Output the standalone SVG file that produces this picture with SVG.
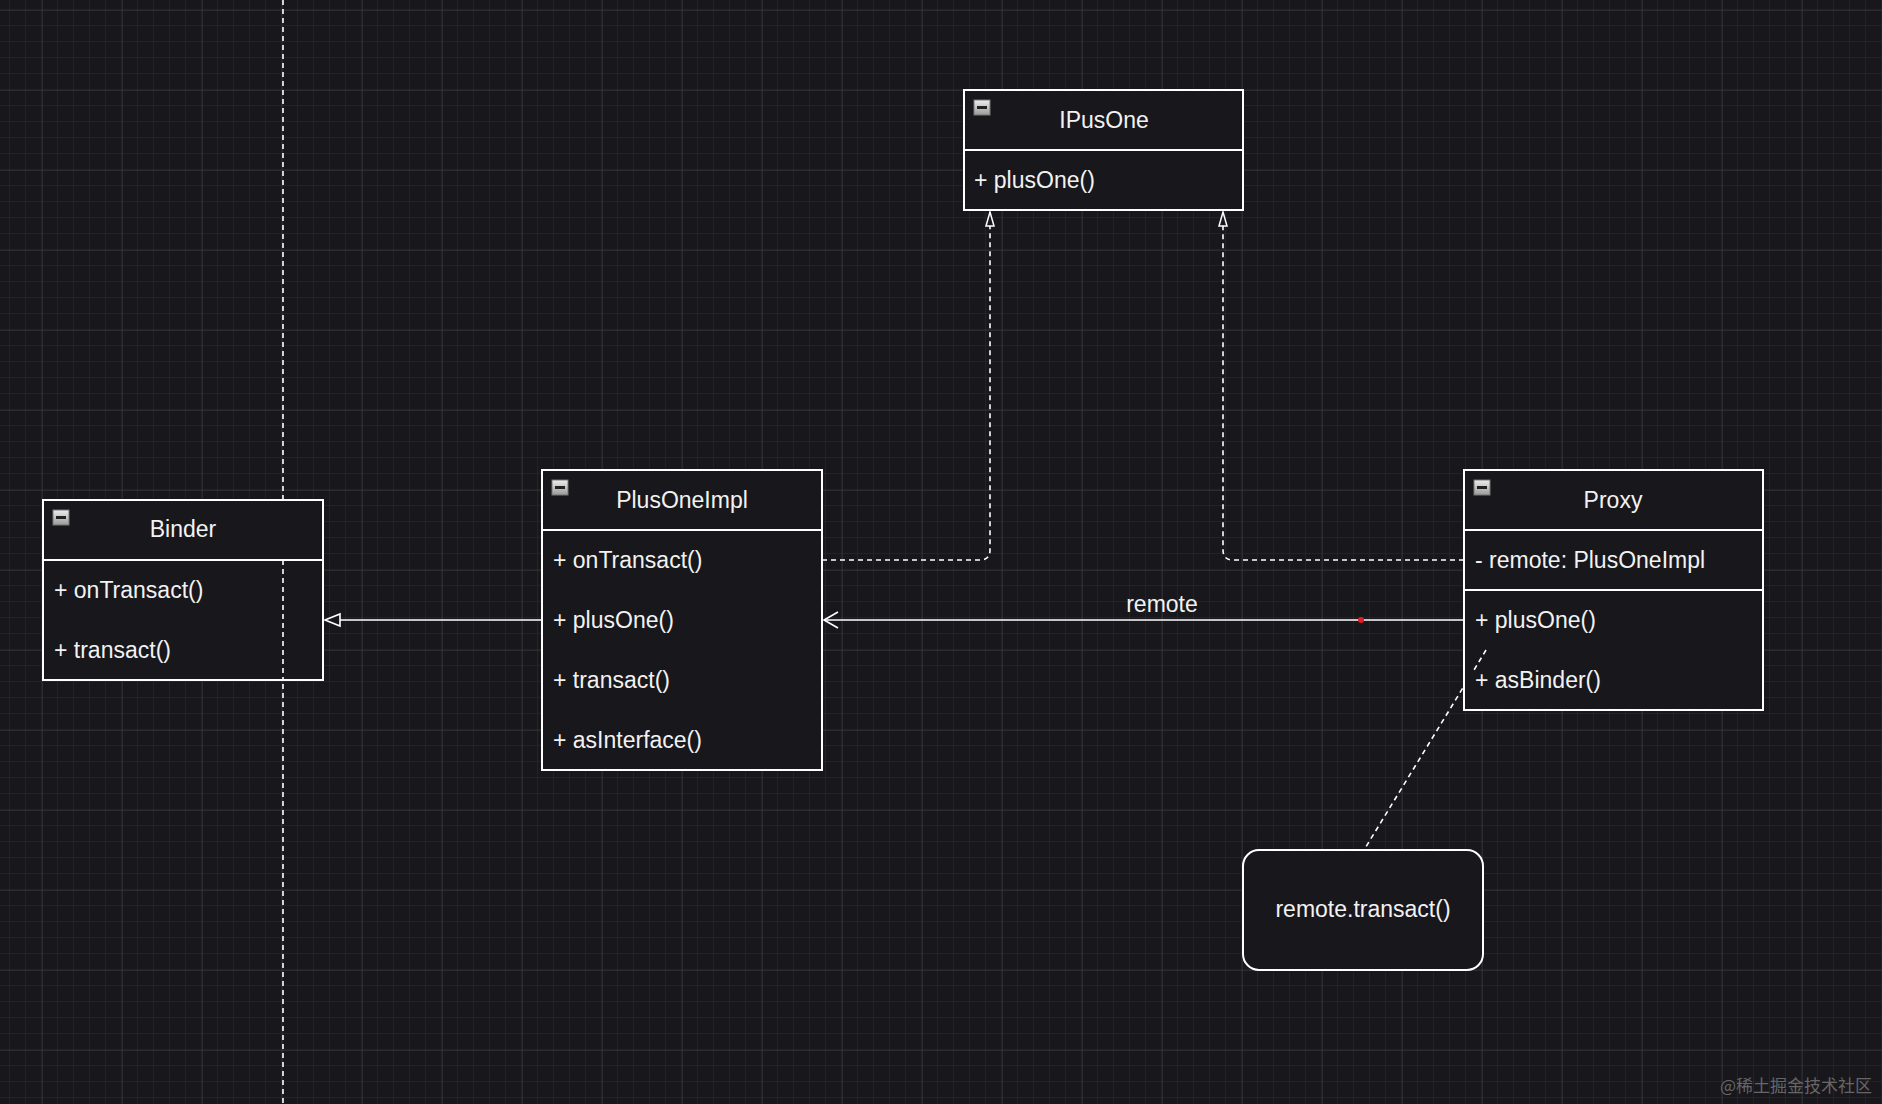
<svg xmlns="http://www.w3.org/2000/svg" width="1882" height="1104" viewBox="0 0 1882 1104">
<defs>
<pattern id="minor" width="16" height="16" patternUnits="userSpaceOnUse" x="10" y="10"><path d="M16 0V16M0 16H16" fill="none" stroke="#2c2b31" stroke-width="1"/></pattern>
<pattern id="major" width="80" height="80" patternUnits="userSpaceOnUse" x="42" y="10"><path d="M0 0V80M0 0H80" fill="none" stroke="#3e3d43" stroke-width="1"/></pattern>
<linearGradient id="ig" x1="0" y1="0" x2="0" y2="1"><stop offset="0" stop-color="#eee"/><stop offset="1" stop-color="#999"/></linearGradient>
</defs>
<style>
.box{fill:#18171c;stroke:#fff;stroke-width:2}
.t{font-family:"Liberation Sans",Arial,sans-serif;font-size:23px;fill:#f2f2f2}
.c{text-anchor:middle}
.ln{stroke:#fff;stroke-width:1.6;fill:none}
.d{stroke-dasharray:5 4}
</style>
<rect width="1882" height="1104" fill="#18171c"/>
<rect width="1882" height="1104" fill="url(#minor)"/>
<rect width="1882" height="1104" fill="url(#major)"/>
<line x1="283" y1="0" x2="283" y2="1104" class="ln d"/>
<g id="connectors">
<path d="M542 620H340" class="ln"/>
<path d="M325 620L340 614V626Z" fill="#18171c" stroke="#fff" stroke-width="1.6"/>
<path d="M822 560H980Q990 560 990 550V212" class="ln d"/>
<path d="M990 212L986 226H994Z" fill="#18171c" stroke="#fff" stroke-width="1.5"/>
<path d="M1464 560H1233Q1223 560 1223 550V212" class="ln d"/>
<path d="M1223 212L1219 226H1227Z" fill="#18171c" stroke="#fff" stroke-width="1.5"/>
<path d="M1464 620H824" class="ln"/>
<path d="M838 612L824 620L838 628" class="ln"/>
<text x="1162" y="612" class="t c">remote</text>
<circle cx="1361" cy="620" r="3" fill="#e02020"/>
<path d="M1486 650L1364 850" class="ln d"/>
</g>
<g id="IPusOne">
<rect x="964" y="90" width="279" height="120" class="box"/>
<line x1="964" y1="150" x2="1243" y2="150" stroke="#fff" stroke-width="2"/>
<rect x="974" y="100" width="16" height="15" fill="url(#ig)" stroke="#777"/><rect x="977" y="106" width="10" height="3" fill="#222"/>
<text x="1104" y="128" class="t c">IPusOne</text>
<text x="974" y="188" class="t">+ plusOne()</text>
</g>
<g id="Binder">
<rect x="43" y="500" width="280" height="180" class="box"/>
<line x1="43" y1="560" x2="323" y2="560" stroke="#fff" stroke-width="2"/>
<rect x="53" y="510" width="16" height="15" fill="url(#ig)" stroke="#777"/><rect x="56" y="516" width="10" height="3" fill="#222"/>
<text x="183" y="537" class="t c">Binder</text>
<text x="54" y="598" class="t">+ onTransact()</text>
<text x="54" y="658" class="t">+ transact()</text>
</g>
<line x1="283" y1="560" x2="283" y2="680" class="ln d"/>
<g id="PlusOneImpl">
<rect x="542" y="470" width="280" height="300" class="box"/>
<line x1="542" y1="530" x2="822" y2="530" stroke="#fff" stroke-width="2"/>
<rect x="552" y="480" width="16" height="15" fill="url(#ig)" stroke="#777"/><rect x="555" y="486" width="10" height="3" fill="#222"/>
<text x="682" y="508" class="t c">PlusOneImpl</text>
<text x="553" y="568" class="t">+ onTransact()</text>
<text x="553" y="628" class="t">+ plusOne()</text>
<text x="553" y="688" class="t">+ transact()</text>
<text x="553" y="748" class="t">+ asInterface()</text>
</g>
<g id="Proxy">
<rect x="1464" y="470" width="299" height="240" class="box"/>
<line x1="1464" y1="530" x2="1763" y2="530" stroke="#fff" stroke-width="2"/>
<line x1="1464" y1="590" x2="1763" y2="590" stroke="#fff" stroke-width="2"/>
<rect x="1474" y="480" width="16" height="15" fill="url(#ig)" stroke="#777"/><rect x="1477" y="486" width="10" height="3" fill="#222"/>
<text x="1613" y="508" class="t c">Proxy</text>
<text x="1475" y="568" class="t">- remote: PlusOneImpl</text>
<text x="1475" y="628" class="t">+ plusOne()</text>
<text x="1475" y="688" class="t">+ asBinder()</text>
</g>
<line x1="1486" y1="650" x2="1474" y2="670" class="ln d"/>
<g id="note">
<rect x="1243" y="850" width="240" height="120" rx="16" class="box"/>
<text x="1363" y="917" class="t c">remote.transact()</text>
</g>
<text x="1872" y="1092" font-family="'Noto Sans CJK SC',sans-serif" font-size="17" fill="#666" text-anchor="end">@稀土掘金技术社区</text>
</svg>
